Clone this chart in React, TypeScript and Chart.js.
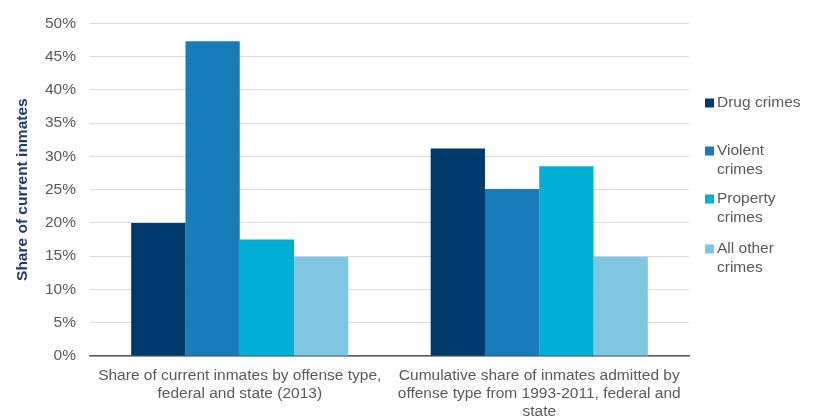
import React, { useEffect, useRef } from "react";
import { Chart, registerables } from "chart.js";

Chart.register(...registerables);

const categories: string[][] = [
  ["Share of current inmates by offense type,", "federal and state (2013)"],
  ["Cumulative share of inmates admitted by", "offense type from 1993-2011, federal and", "state"],
];
const seriesNames = ["Drug crimes", "Violent crimes", "Property crimes", "All other crimes"];
const legendLines: string[][] = [["Drug crimes"], ["Violent", "crimes"], ["Property", "crimes"], ["All other", "crimes"]];
const drugCrimes = [20.0, 31.2];
const violentCrimes = [47.3, 25.1];
const propertyCrimes = [17.5, 28.5];
const otherCrimes = [14.9, 14.9];
const yTicks = [0, 5, 10, 15, 20, 25, 30, 35, 40, 45, 50];
const colors = ["#003A6C", "#177CBA", "#00B0D4", "#7FC6E0"];

const FONT = "'Liberation Sans', Arial, sans-serif";

export default function App() {
  const ref = useRef<HTMLCanvasElement>(null);
  useEffect(() => {
    if (!ref.current) return;
    const values = [drugCrimes, violentCrimes, propertyCrimes, otherCrimes];
    const legendPlugin = {
      id: "customLegend",
      afterDraw(chart: any) {
        const ctx = chart.ctx;
        ctx.save();
        ctx.font = `15.5px ${FONT}`;
        ctx.textBaseline = "middle";
        const starts = [103, 151, 199, 249];
        legendLines.forEach((lines, i) => {
          const y0 = starts[i];
          ctx.fillStyle = colors[i];
          ctx.fillRect(705, y0 - 4.5, 9, 9);
          ctx.fillStyle = "#595959";
          lines.forEach((t, j) => ctx.fillText(t, 717, y0 + j * 18.5));
        });
        ctx.restore();
      },
    };
    const chart = new Chart(ref.current, {
      type: "bar",
      data: {
        labels: categories,
        datasets: seriesNames.map((name, i) => ({
          label: name,
          data: values[i],
          backgroundColor: colors[i],
          borderWidth: 0,
          barPercentage: 1.0,
          categoryPercentage: 0.725,
        })),
      },
      options: {
        animation: false,
        responsive: false,
        devicePixelRatio: 1,
        layout: { padding: { top: 14, right: 129, left: 13, bottom: 0 } },
        plugins: { legend: { display: false }, tooltip: { enabled: false }, title: { display: false } },
        scales: {
          x: {
            grid: { display: false, drawTicks: false },
            border: { display: true, color: "#595959", width: 1.5 },
            ticks: { color: "#595959", font: { family: FONT, size: 15.5, lineHeight: 1.16 }, padding: 11, maxRotation: 0, autoSkip: false },
            afterFit(scale: any) { scale.height = 64; },
          },
          y: {
            min: 0,
            max: 50,
            afterBuildTicks(scale: any) { scale.ticks = yTicks.map((v) => ({ value: v })); },
            grid: { color: "#D9D9D9", lineWidth: 1, drawTicks: false },
            border: { display: false },
            ticks: { color: "#595959", font: { family: FONT, size: 15.5 }, padding: 14, callback: (v: any) => v + "%" },
            title: {
              display: true,
              text: "Share of current inmates",
              color: "#1F3A70",
              font: { family: FONT, size: 15.5, weight: "bold" },
              padding: { top: 0, bottom: 8 },
            },
            afterFit(scale: any) { scale.width = 77; },
          },
        },
      },
      plugins: [legendPlugin],
    });
    return () => chart.destroy();
  }, []);
  return (
    <div style={{ position: "fixed", left: 0, top: 0, width: 818, height: 420, background: "#fff" }}>
      <canvas ref={ref} width={818} height={420} style={{ width: 818, height: 420 }} />
    </div>
  );
}
